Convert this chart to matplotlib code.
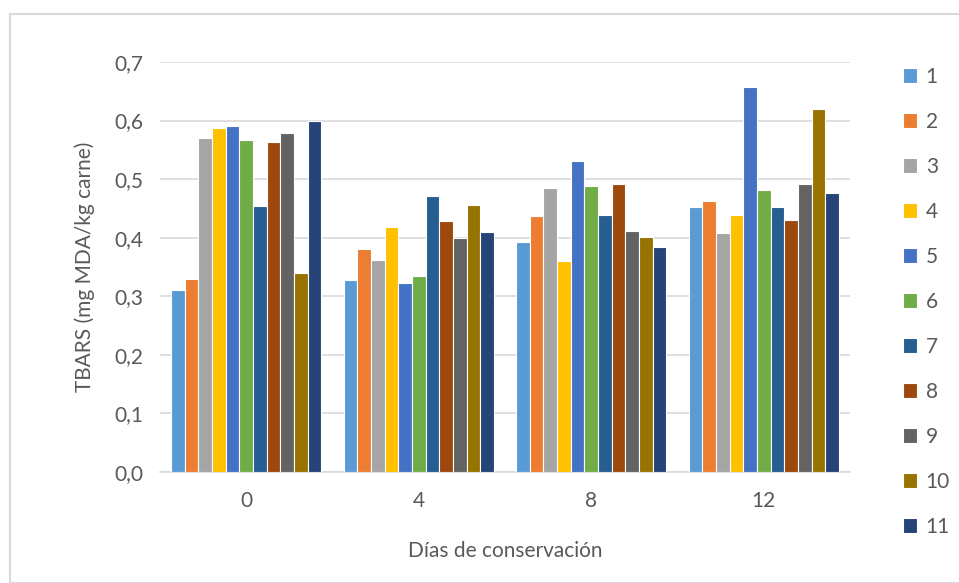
import matplotlib
matplotlib.use("Agg")
import matplotlib.pyplot as plt
import numpy as np
from matplotlib.patches import Rectangle

days = ["0", "4", "8", "12"]
series = ["1", "2", "3", "4", "5", "6", "7", "8", "9", "10", "11"]
s1 = [0.310, 0.327, 0.393, 0.452]
s2 = [0.330, 0.380, 0.437, 0.463]
s3 = [0.570, 0.362, 0.485, 0.408]
s4 = [0.587, 0.419, 0.360, 0.439]
s5 = [0.590, 0.323, 0.531, 0.658]
s6 = [0.566, 0.334, 0.489, 0.482]
s7 = [0.454, 0.472, 0.439, 0.452]
s8 = [0.563, 0.428, 0.492, 0.431]
s9 = [0.579, 0.400, 0.412, 0.491]
s10 = [0.340, 0.455, 0.401, 0.619]
s11 = [0.600, 0.410, 0.384, 0.476]
values = [s1, s2, s3, s4, s5, s6, s7, s8, s9, s10, s11]
colors = ["#5B9BD5", "#ED7D31", "#A5A5A5", "#FFC000", "#4472C4", "#70AD47",
          "#255E91", "#9E480E", "#636363", "#997300", "#264478"]
yticks = [0.0, 0.1, 0.2, 0.3, 0.4, 0.5, 0.6, 0.7]

plt.rcParams['font.family'] = ['Lato', 'DejaVu Sans']
txt = "#595959"

fig = plt.figure(figsize=(9.59, 5.83), dpi=100)
fig.patches.append(Rectangle((10/959, 0), 1, 1 - 14/583, transform=fig.transFigure,
                             fill=False, edgecolor="#D9D9D9", linewidth=1.5))
ax = fig.add_axes([160/959, 1 - 472/583, 690/959, 410/583])

n = len(series)
slot = 0.87 / n
x = np.arange(len(days))
for i, (name, vals, c) in enumerate(zip(series, values, colors)):
    ax.bar(x - 0.435 + slot * (i + 0.5), vals, width=slot, color=c,
           edgecolor="white", linewidth=0.8, label=name, zorder=3)

ax.set_xlim(-0.5, len(days) - 0.5)
ax.set_ylim(0, 0.7)
ax.set_yticks(yticks)
ax.set_yticklabels([f"{v:.1f}".replace(".", ",") for v in yticks])
ax.set_xticks(x)
ax.set_xticklabels(days)
ax.grid(axis="y", color="#D9D9D9", linewidth=1.2, zorder=0)
for s in ["top", "right", "left"]:
    ax.spines[s].set_visible(False)
ax.spines["bottom"].set_color("#D9D9D9")
ax.spines["bottom"].set_linewidth(1.2)
ax.tick_params(axis="both", length=0, labelsize=15, colors=txt, pad=12)
ax.tick_params(axis="x", pad=14)
ax.set_ylabel("TBARS (mg MDA/kg carne)", fontsize=15, color=txt, labelpad=14)
ax.set_xlabel("Días de conservación", fontsize=15, color=txt, labelpad=21)

leg = ax.legend(loc="upper left", bbox_to_anchor=(884/959, 1 - 48/583),
                bbox_transform=fig.transFigure, frameon=False, fontsize=15,
                handlelength=0.7, handleheight=0.7, handletextpad=0.4,
                labelspacing=1.2, labelcolor=txt)
fig.savefig("out.png", dpi=100)
